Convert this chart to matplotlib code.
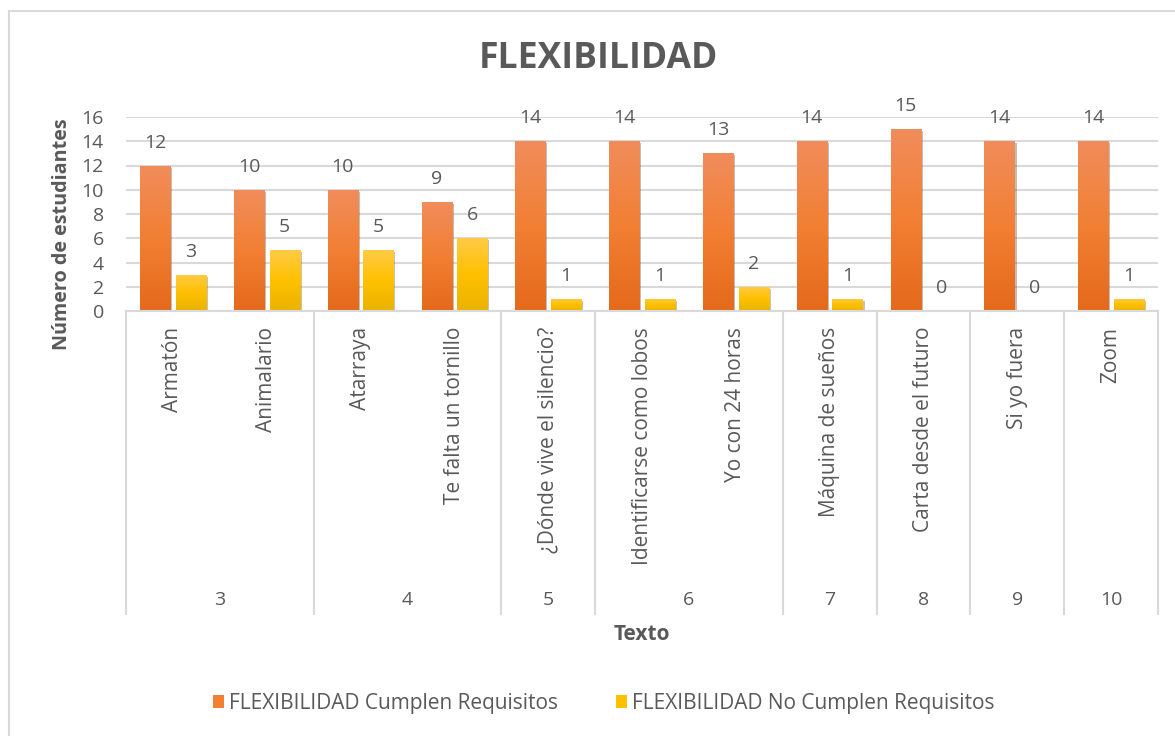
import numpy as np
import matplotlib
matplotlib.use("Agg")
import matplotlib.pyplot as plt
import matplotlib.patheffects as pe
from matplotlib.colors import LinearSegmentedColormap
from matplotlib.patches import Rectangle, Patch
from matplotlib.transforms import blended_transform_factory

plt.rcParams['font.family'] = ['Open Sans', 'DejaVu Sans']

# ==== Data ====
textos = ["Armatón", "Animalario", "Atarraya", "Te falta un tornillo",
          "¿Dónde vive el silencio?", "Identificarse como lobos", "Yo con 24 horas",
          "Máquina de sueños", "Carta desde el futuro", "Si yo fuera", "Zoom"]
grupos = ["3", "4", "5", "6", "7", "8", "9", "10"]
textos_por_grupo = [2, 2, 1, 2, 1, 1, 1, 1]
cumplen = [12, 10, 10, 9, 14, 14, 13, 14, 15, 14, 14]
no_cumplen = [3, 5, 5, 6, 1, 1, 2, 1, 0, 0, 1]

serie_cumplen = "FLEXIBILIDAD Cumplen Requisitos"
serie_no_cumplen = "FLEXIBILIDAD No Cumplen Requisitos"

GRAY_TXT = "#595959"
GRID = "#D9D9D9"
ORANGE = ["#F08D5C", "#F27F33", "#E4691B"]
YELLOW = ["#FFCB45", "#FFC000", "#E9B300"]

fig = plt.figure(figsize=(11.75, 7.36), dpi=100)
W, H = 1175, 736
ax = fig.add_axes([126 / W, 1 - 311 / H, (1158 - 126) / W, (311 - 117) / H])

# outer chart border
fig.patches.append(Rectangle((9 / W, -0.05), 1.2, 1 - 11 / H + 0.05, transform=fig.transFigure,
                             fill=False, edgecolor=GRID, linewidth=1.5))

x = np.arange(len(textos))
bw = 0.32
off = 0.19


def gradient_bars(xpos, vals, colors):
    cmap = LinearSegmentedColormap.from_list("g", colors[::-1])
    bars = ax.bar(xpos, vals, width=bw, color=colors[1], zorder=3)
    grad = np.linspace(0, 1, 256).reshape(-1, 1)
    for b, v in zip(bars, vals):
        b.set_path_effects([pe.SimplePatchShadow(offset=(1.5, -1.5), alpha=0.3), pe.Normal()])
        if v <= 0:
            continue
        im = ax.imshow(grad, cmap=cmap, aspect="auto", origin="lower",
                       extent=(b.get_x(), b.get_x() + bw, 0, v), zorder=4)
        im.set_clip_path(b)
    return bars


gradient_bars(x - off, cumplen, ORANGE)
gradient_bars(x + off, no_cumplen, YELLOW)

# data labels
for xi, v in zip(x - off, cumplen):
    ax.annotate(str(v), (xi, v), xytext=(0, 16.5), textcoords="offset points",
                ha="center", va="center", fontsize=14, color=GRAY_TXT)
for xi, v in zip(x + off, no_cumplen):
    ax.annotate(str(v), (xi, v), xytext=(0, 16.5), textcoords="offset points",
                ha="center", va="center", fontsize=14, color=GRAY_TXT)

ax.set_xlim(-0.5, len(textos) - 0.5)
ax.set_ylim(0, 16)
ax.set_yticks(range(0, 17, 2))
ax.yaxis.grid(True, color=GRID, linewidth=1.5, zorder=0)
ax.set_axisbelow(True)
for s in ["top", "right", "left"]:
    ax.spines[s].set_visible(False)
ax.spines["bottom"].set_color(GRID)
ax.spines["bottom"].set_linewidth(1.5)
ax.spines["bottom"].set_zorder(5)

ax.set_xticks(x)
ax.set_xticklabels(textos, rotation=90, fontsize=15, color=GRAY_TXT)
ax.tick_params(axis="x", length=0, pad=11.5)
ax.tick_params(axis="y", length=0, labelsize=14, labelcolor=GRAY_TXT, pad=16)

# group separators and group labels below the text labels
tr = blended_transform_factory(ax.transData, fig.transFigure)
bounds = np.concatenate([[0], np.cumsum(textos_por_grupo)]) - 0.5
y_top = 1 - 311 / H
y_bot = 1 - 614 / H
for b in bounds:
    ax.plot([b, b], [y_top, y_bot], transform=tr, color=GRID, linewidth=1.5,
            clip_on=False, zorder=1)
for g, a, b in zip(grupos, bounds[:-1], bounds[1:]):
    ax.text((a + b) / 2, 1 - 600 / H, g, transform=tr, ha="center", va="center",
            fontsize=14, color=GRAY_TXT)

fig.text(642 / W, 1 - 635 / H, "Texto", ha="center", va="center",
         fontsize=15, fontweight="bold", color=GRAY_TXT)
fig.text(62 / W, 1 - 234 / H, "Número de estudiantes", ha="center", va="center",
         rotation=90, fontsize=14.2, fontweight="bold", color=GRAY_TXT)
fig.text(598 / W, 1 - 59 / H, "FLEXIBILIDAD", ha="center", va="center",
         fontsize=25.6, fontweight="bold", color=GRAY_TXT)

handles = [Patch(facecolor=ORANGE[1], edgecolor="none"),
           Patch(facecolor=YELLOW[1], edgecolor="none")]
fig.legend(handles, [serie_cumplen, serie_no_cumplen], loc="center",
           bbox_to_anchor=(604 / W, 1 - 703 / H), ncol=2, frameon=False,
           fontsize=15, labelcolor=GRAY_TXT, handlelength=0.5, handleheight=0.6,
           handletextpad=0.25, columnspacing=2.8)

fig.savefig("out.png", dpi=100)
